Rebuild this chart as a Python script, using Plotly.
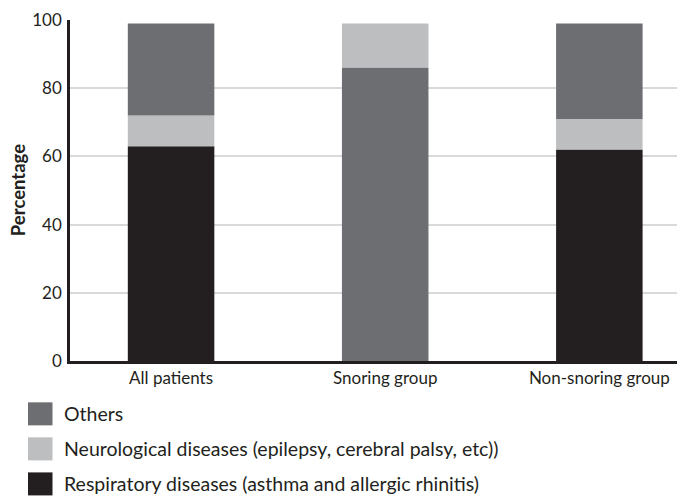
import plotly.graph_objects as go

categories = ["All patients", "Snoring group", "Non-snoring group"]
series_names = ["Others",
                "Neurological diseases (epilepsy, cerebral palsy, etc))",
                "Respiratory diseases (asthma and allergic rhinitis)"]
respiratory = [63, 0, 62]
neurological = [9, 13, 9]
others = [27, 86, 28]
# bottom-to-top stacking order used in each group
stack_order = [["resp", "neuro", "others"],
               ["others", "neuro", "resp"],
               ["resp", "neuro", "others"]]

colors = {"others": "#6d6e71", "neuro": "#bcbec0", "resp": "#231f20"}
values = {"others": others, "neuro": neurological, "resp": respiratory}
names = {"others": series_names[0], "neuro": series_names[1], "resp": series_names[2]}

# page body has an 8px margin, so the figure is drawn slightly smaller
W, H = 677, 488
L, R, T, B = 62, 0, 12, 135.3

bases = {k: [0] * len(categories) for k in values}
for i, order in enumerate(stack_order):
    acc = 0
    for k in order:
        bases[k][i] = acc
        acc += values[k][i]

fig = go.Figure()
for k in ["resp", "neuro", "others"]:
    fig.add_trace(go.Bar(
        x=categories, y=values[k], base=bases[k], name=names[k],
        marker=dict(color=colors[k], line=dict(width=0)),
        width=0.404, showlegend=False))

FONT = "Lato"
fig.update_layout(
    width=W, height=H, margin=dict(l=L, r=R, t=T, b=B, autoexpand=False),
    paper_bgcolor="white", plot_bgcolor="white", barmode="overlay",
    font=dict(family=FONT, color="#231f20"),
    xaxis=dict(range=[-0.472, 2.40], showgrid=False, showline=True,
               linecolor="#231f20", linewidth=2.5, ticks="",
               tickfont=dict(size=17, color="#231f20")),
    yaxis=dict(range=[0, 100], tickvals=[0, 20, 40, 60, 80, 100],
               showgrid=True, gridcolor="#d9d9d9", gridwidth=1.5,
               showline=True, linecolor="#231f20", linewidth=2.5,
               ticks="outside", ticklen=2, tickcolor="rgba(0,0,0,0)",
               tickfont=dict(size=17, color="#231f20"), zeroline=False),
)

def px(x):
    return (x - L) / (W - L - R)

def py(y):
    return 1 - (y - T) / (H - T - B)

fig.add_annotation(xref="paper", yref="paper", x=px(10), y=py(182),
                   xanchor="center", yanchor="middle", showarrow=False,
                   textangle=-90, text="<b>Percentage</b>",
                   font=dict(size=18.5, color="#231f20"))

legend_rows = [("others", 405.5), ("neuro", 440.5), ("resp", 475.5)]
for k, yc in legend_rows:
    fig.add_shape(type="rect", xref="paper", yref="paper",
                  x0=px(20), x1=px(44.5), y0=py(yc - 11.5), y1=py(yc + 11.5),
                  fillcolor=colors[k], line=dict(width=0))
    fig.add_annotation(xref="paper", yref="paper", x=px(54), y=py(yc),
                       xanchor="left", yanchor="middle", showarrow=False,
                       text=names[k], font=dict(size=19.5, color="#231f20"))

fig.write_html("out.html")
